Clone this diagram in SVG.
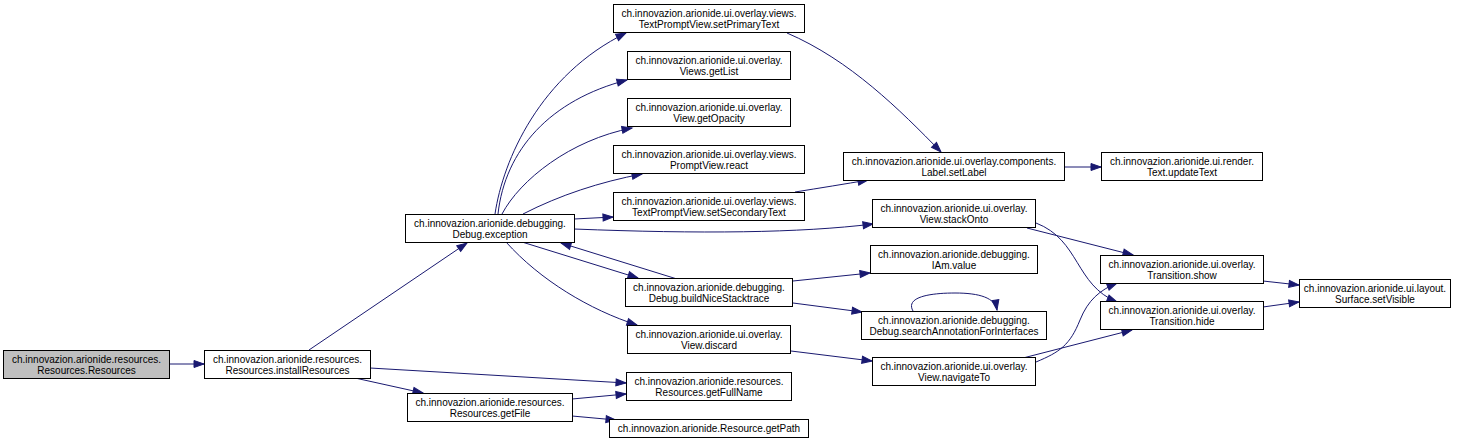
<svg xmlns="http://www.w3.org/2000/svg" width="1462" height="442" viewBox="0 0 1462 442">
<style>
.n rect{fill:#ffffff;stroke:#000000;stroke-width:1}
.n text{font-family:"Liberation Sans",Arial,Helvetica,sans-serif;font-size:10px;text-anchor:middle;fill:#000000}
#edges path{fill:none;stroke:#191970;stroke-width:1;marker-end:url(#ah)}
</style>
<defs>
<marker id="ah" markerUnits="userSpaceOnUse" markerWidth="11" markerHeight="8" refX="10" refY="3.5" orient="auto" overflow="visible">
<path d="M0,0 L10,3.5 L0,7 z" fill="#191970" stroke="#191970" stroke-width="1"/>
</marker>
</defs>
<rect width="1462" height="442" fill="#ffffff"/>
<g id="edges">
<path d="M170,364 L204,364"/>
<path d="M309,350 L467,243"/>
<path d="M370,368 L626,383"/>
<path d="M355,378 L423,393"/>
<path d="M572,399 L626,394"/>
<path d="M572,416 L616,420"/>
<path d="M495,214 C503,160 540,75 626,33"/>
<path d="M498,214 C505,150 550,100 627,80"/>
<path d="M502,214 C520,180 570,140 632,128"/>
<path d="M523,214 C560,195 600,182 642,174"/>
<path d="M574,219 L613,217"/>
<path d="M574,229 C700,234 800,233 873,224"/>
<path d="M522,242 L638,278"/>
<path d="M677,279 L561,243"/>
<path d="M506,242 C540,280 590,310 637,325"/>
<path d="M787,33 C850,60 900,110 941,152"/>
<path d="M795,192 C820,188 845,184 868,180"/>
<path d="M1064,167 L1101,167"/>
<path d="M1027,228 L1133,255"/>
<path d="M1036,223 C1080,240 1075,285 1117,302"/>
<path d="M793,281 L870,273"/>
<path d="M793,303 L862,312"/>
<path d="M913,311 C905,297 930,293 955,293 C980,293 995,298 997,310"/>
<path d="M791,351 L872,361"/>
<path d="M1036,362 C1060,352 1070,345 1080,320 C1088,300 1100,290 1117,283"/>
<path d="M1023,358 L1132,330"/>
<path d="M1263,281 L1299,285"/>
<path d="M1263,307 L1299,302"/>
</g>
<g id="n1" class="n"><rect x="3.5" y="350.5" width="166" height="28" style="fill:#bfbfbf"/><text x="86.5" y="363">ch.innovazion.arionide.resources.</text><text x="86.5" y="374">Resources.Resources</text></g>
<g id="n2" class="n"><rect x="204.5" y="350.5" width="166" height="28"/><text x="287.5" y="363">ch.innovazion.arionide.resources.</text><text x="287.5" y="374">Resources.installResources</text></g>
<g id="n3" class="n"><rect x="405.5" y="214.5" width="169" height="28"/><text x="490" y="227">ch.innovazion.arionide.debugging.</text><text x="490" y="238">Debug.exception</text></g>
<g id="n4" class="n"><rect x="613.5" y="4.5" width="191" height="28"/><text x="709" y="17">ch.innovazion.arionide.ui.overlay.views.</text><text x="709" y="28">TextPromptView.setPrimaryText</text></g>
<g id="n5" class="n"><rect x="627.5" y="51.5" width="163" height="28"/><text x="709" y="64">ch.innovazion.arionide.ui.overlay.</text><text x="709" y="75">Views.getList</text></g>
<g id="n6" class="n"><rect x="627.5" y="98.5" width="163" height="28"/><text x="709" y="111">ch.innovazion.arionide.ui.overlay.</text><text x="709" y="122">View.getOpacity</text></g>
<g id="n7" class="n"><rect x="613.5" y="145.5" width="191" height="28"/><text x="709" y="158">ch.innovazion.arionide.ui.overlay.views.</text><text x="709" y="169">PromptView.react</text></g>
<g id="n8" class="n"><rect x="613.5" y="192.5" width="191" height="28"/><text x="709" y="205">ch.innovazion.arionide.ui.overlay.views.</text><text x="709" y="216">TextPromptView.setSecondaryText</text></g>
<g id="n9" class="n"><rect x="625.5" y="278.5" width="167" height="28"/><text x="709" y="291">ch.innovazion.arionide.debugging.</text><text x="709" y="302">Debug.buildNiceStacktrace</text></g>
<g id="n10" class="n"><rect x="627.5" y="325.5" width="163" height="28"/><text x="709" y="338">ch.innovazion.arionide.ui.overlay.</text><text x="709" y="349">View.discard</text></g>
<g id="n11" class="n"><rect x="626.5" y="372.5" width="165" height="28"/><text x="709" y="385">ch.innovazion.arionide.resources.</text><text x="709" y="396">Resources.getFullName</text></g>
<g id="n12" class="n"><rect x="407.5" y="393.5" width="165" height="28"/><text x="490" y="406">ch.innovazion.arionide.resources.</text><text x="490" y="417">Resources.getFile</text></g>
<g id="n13" class="n"><rect x="609.5" y="419.5" width="199" height="18"/><text x="709" y="432">ch.innovazion.arionide.Resource.getPath</text></g>
<g id="n14" class="n"><rect x="843.5" y="152.5" width="221" height="28"/><text x="954" y="165">ch.innovazion.arionide.ui.overlay.components.</text><text x="954" y="176">Label.setLabel</text></g>
<g id="n15" class="n"><rect x="1101.5" y="152.5" width="161" height="28"/><text x="1182" y="165">ch.innovazion.arionide.ui.render.</text><text x="1182" y="176">Text.updateText</text></g>
<g id="n16" class="n"><rect x="872.5" y="199.5" width="163" height="28"/><text x="954" y="212">ch.innovazion.arionide.ui.overlay.</text><text x="954" y="223">View.stackOnto</text></g>
<g id="n17" class="n"><rect x="870.5" y="245.5" width="167" height="28"/><text x="954" y="258">ch.innovazion.arionide.debugging.</text><text x="954" y="269">IAm.value</text></g>
<g id="n18" class="n"><rect x="861.5" y="311.5" width="185" height="28"/><text x="954" y="324">ch.innovazion.arionide.debugging.</text><text x="954" y="335">Debug.searchAnnotationForInterfaces</text></g>
<g id="n19" class="n"><rect x="872.5" y="357.5" width="163" height="28"/><text x="954" y="370">ch.innovazion.arionide.ui.overlay.</text><text x="954" y="381">View.navigateTo</text></g>
<g id="n20" class="n"><rect x="1100.5" y="255.5" width="163" height="28"/><text x="1182" y="268">ch.innovazion.arionide.ui.overlay.</text><text x="1182" y="279">Transition.show</text></g>
<g id="n21" class="n"><rect x="1100.5" y="301.5" width="163" height="28"/><text x="1182" y="314">ch.innovazion.arionide.ui.overlay.</text><text x="1182" y="325">Transition.hide</text></g>
<g id="n22" class="n"><rect x="1299.5" y="279.5" width="151" height="28"/><text x="1375" y="292">ch.innovazion.arionide.ui.layout.</text><text x="1375" y="303">Surface.setVisible</text></g>
</svg>
